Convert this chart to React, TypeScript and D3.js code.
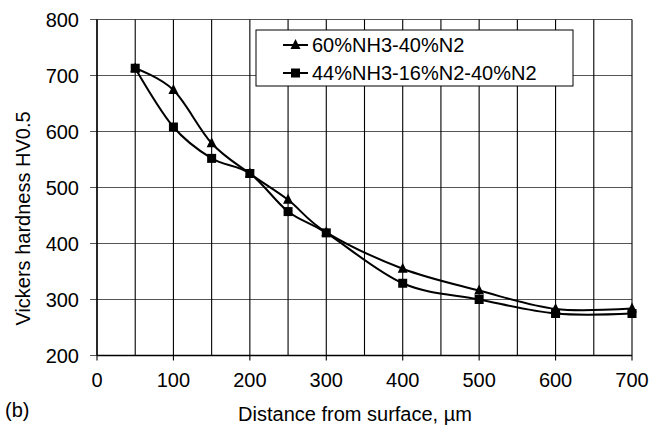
import React from "react";
import * as d3 from "d3";

const distances = [50, 100, 150, 200, 250, 300, 400, 500, 600, 700];
const series60 = [713, 674, 579, 525, 478, 420, 355, 316, 283, 284];
const series44 = [713, 608, 552, 525, 457, 419, 329, 300, 275, 275];
const seriesNames = ["60%NH3-40%N2", "44%NH3-16%N2-40%N2"];
const xTicks = [0, 100, 200, 300, 400, 500, 600, 700];
const xGrid = [0, 50, 100, 150, 200, 250, 300, 350, 400, 450, 500, 550, 600, 650, 700];
const yTicks = [200, 300, 400, 500, 600, 700, 800];

const W = 650;
const H = 425;
const L = 97, R = 632, T = 19.5, B = 355.5;
const FONT = "'Liberation Sans', Arial, sans-serif";

export default function App() {
  const x = d3.scaleLinear().domain([0, 700]).range([L, R]);
  const y = d3.scaleLinear().domain([200, 800]).range([B, T]);
  const line = d3
    .line<number>()
    .x((_, i) => x(distances[i]))
    .y((v) => y(v))
    .curve(d3.curveCardinal.tension(0));

  const tri = (cx: number, cy: number, s = 10) =>
    `M${cx},${cy - s * 0.6}L${cx + s / 2},${cy + s * 0.4}L${cx - s / 2},${cy + s * 0.4}Z`;
  const sq = 9;

  return (
    <svg width={W} height={H} style={{ position: "absolute", left: 0, top: 0, background: "#fff" }}>
      <rect width={W} height={H} fill="#fff" />
      {/* horizontal grid */}
      {yTicks.map((t) => (
        <line key={"h" + t} x1={L - 7} x2={R} y1={y(t)} y2={y(t)} stroke="#555" strokeWidth={1.2} />
      ))}
      {/* vertical grid */}
      {xGrid.map((t) => (
        <line key={"v" + t} x1={x(t)} x2={x(t)} y1={T} y2={B + (t % 100 === 0 ? 5 : 0)} stroke="#000" strokeWidth={1.1} />
      ))}
      <line x1={L} x2={R} y1={B} y2={B} stroke="#000" strokeWidth={1.3} />
      <line x1={L} x2={L} y1={T} y2={B} stroke="#000" strokeWidth={1.3} />
      {/* y tick labels */}
      {yTicks.map((t) => (
        <text key={"yl" + t} x={79} y={y(t) + 7} textAnchor="end" fontFamily={FONT} fontSize={20} fill="#000">
          {t}
        </text>
      ))}
      {xTicks.map((t) => (
        <text key={"xl" + t} x={x(t)} y={387} textAnchor="middle" fontFamily={FONT} fontSize={20} fill="#000">
          {t}
        </text>
      ))}
      {/* series */}
      <path d={line(series60) || ""} fill="none" stroke="#000" strokeWidth={2} />
      <path d={line(series44) || ""} fill="none" stroke="#000" strokeWidth={2} />
      {series60.map((v, i) => (
        <path key={"t" + i} d={tri(x(distances[i]), y(v))} fill="#000" />
      ))}
      {series44.map((v, i) => (
        <rect key={"s" + i} x={x(distances[i]) - sq / 2} y={y(v) - sq / 2} width={sq} height={sq} fill="#000" />
      ))}
      {/* legend */}
      <rect x={256} y={30} width={317} height={56} fill="#fff" stroke="#000" strokeWidth={1} />
      <line x1={283} x2={308} y1={45} y2={45} stroke="#000" strokeWidth={2} />
      <path d={tri(295.5, 45)} fill="#000" />
      <text x={312} y={52} fontFamily={FONT} fontSize={20} fill="#000">{seriesNames[0]}</text>
      <line x1={283} x2={308} y1={73} y2={73} stroke="#000" strokeWidth={2} />
      <rect x={295.5 - sq / 2} y={73 - sq / 2} width={sq} height={sq} fill="#000" />
      <text x={312} y={80} fontFamily={FONT} fontSize={20} fill="#000">{seriesNames[1]}</text>
      {/* titles */}
      <text
        transform={`translate(30,218.5) rotate(-90)`}
        textAnchor="middle"
        fontFamily={FONT}
        fontSize={20}
        fill="#000"
      >
        Vickers hardness HV0.5
      </text>
      <text x={355} y={421} textAnchor="middle" fontFamily={FONT} fontSize={20} fill="#000">
        Distance from surface, µm
      </text>
      <text x={5} y={417} fontFamily={FONT} fontSize={20} fill="#000">(b)</text>
    </svg>
  );
}
